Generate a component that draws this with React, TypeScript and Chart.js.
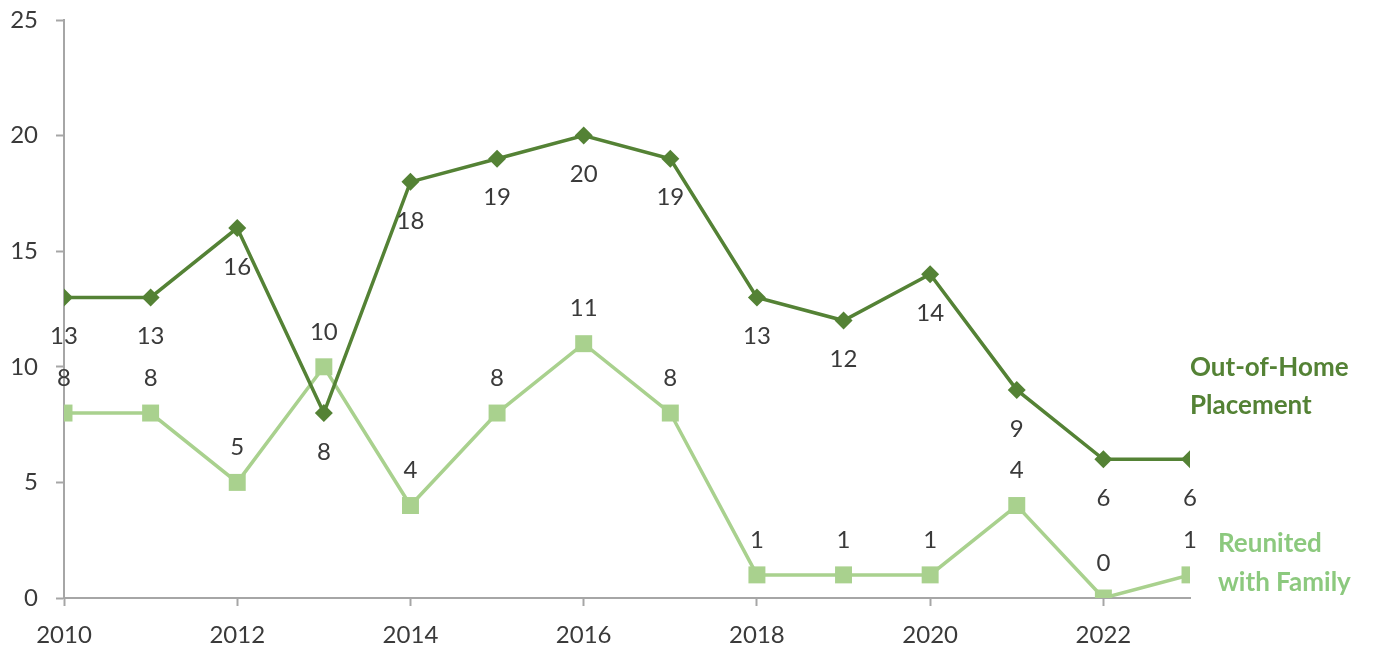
import React, { useEffect, useRef } from "react";
import { Chart, registerables } from "chart.js";

Chart.register(...registerables);

const years = [2010, 2011, 2012, 2013, 2014, 2015, 2016, 2017, 2018, 2019, 2020, 2021, 2022, 2023];
const outOfHome = [13, 13, 16, 8, 18, 19, 20, 19, 13, 12, 14, 9, 6, 6];
const reunited = [8, 8, 5, 10, 4, 8, 11, 8, 1, 1, 1, 4, 0, 1];
const yTicks = [0, 5, 10, 15, 20, 25];
const seriesNames = [["Out-of-Home", "Placement"], ["Reunited", "with Family"]];

const DARK = "#548235";
const LIGHT = "#A9D18E";
const LIGHT_TEXT = "#8CC97E";
const TEXT = "#3A3A3A";
const AXIS = "#A6A6A6";
const FONT = "Lato";

const labelPlugin = {
  id: "labels",
  afterDatasetsDraw(chart: any) {
    const ctx = chart.ctx;
    ctx.save();
    ctx.font = `24px ${FONT}`;
    ctx.fillStyle = TEXT;
    ctx.textAlign = "center";
    ctx.textBaseline = "middle";
    const offsets = [39, -35];
    chart.data.datasets.forEach((ds: any, i: number) => {
      const meta = chart.getDatasetMeta(i);
      meta.data.forEach((pt: any, j: number) => {
        ctx.fillText(String(ds.data[j].y), pt.x, pt.y + offsets[i]);
      });
    });
    // series name labels
    const area = chart.chartArea;
    ctx.font = `bold 26px ${FONT}`;
    ctx.textAlign = "left";
    ctx.fillStyle = DARK;
    ctx.fillText(seriesNames[0][0], area.right, 368);
    ctx.fillText(seriesNames[0][1], area.right, 406);
    ctx.fillStyle = LIGHT_TEXT;
    ctx.fillText(seriesNames[1][0], area.right + 28, 544);
    ctx.fillText(seriesNames[1][1], area.right + 28, 583);
    ctx.restore();
  },
};

export default function App() {
  const ref = useRef<HTMLCanvasElement>(null);
  useEffect(() => {
    const chart = new Chart(ref.current!, {
      type: "line",
      data: {
        datasets: [
          {
            label: "Out-of-Home Placement",
            data: years.map((x, i) => ({ x, y: outOfHome[i] })),
            borderColor: DARK,
            backgroundColor: DARK,
            borderWidth: 3.5,
            pointStyle: "rectRot",
            pointRadius: 9,
            pointBorderWidth: 0,
          },
          {
            label: "Reunited with Family",
            data: years.map((x, i) => ({ x, y: reunited[i] })),
            borderColor: LIGHT,
            backgroundColor: LIGHT,
            borderWidth: 3.5,
            pointStyle: "rect",
            pointRadius: 12,
            pointBorderWidth: 0,
          },
        ],
      },
      options: {
        animation: false,
        responsive: false,
        maintainAspectRatio: false,
        layout: { padding: { top: 20, right: 185, left: 0, bottom: 0 } },
        plugins: { legend: { display: false }, tooltip: { enabled: false } },
        scales: {
          x: {
            type: "linear",
            min: years[0],
            max: years[years.length - 1],
            afterBuildTicks: (s: any) => {
              s.ticks = years.filter((y) => y % 2 === 0).map((v) => ({ value: v }));
            },
            afterFit: (s: any) => {
              s.height = 52;
              s.paddingLeft = 0;
              s.paddingRight = 0;
            },
            ticks: {
              callback: (v: any) => String(v),
              color: TEXT,
              font: { family: FONT, size: 24 },
              padding: 15,
              maxRotation: 0,
            },
            grid: { drawOnChartArea: false, color: AXIS, tickLength: 8, tickWidth: 2 },
            border: { color: AXIS, width: 2 },
          },
          y: {
            min: 0,
            max: 25,
            afterBuildTicks: (s: any) => {
              s.ticks = yTicks.map((v) => ({ value: v }));
            },
            afterFit: (s: any) => {
              s.width = 64;
              s.paddingTop = 0;
              s.paddingBottom = 0;
            },
            ticks: {
              color: TEXT,
              font: { family: FONT, size: 24 },
              padding: 18,
            },
            grid: { drawOnChartArea: false, color: AXIS, tickLength: 8, tickWidth: 2 },
            border: { color: AXIS, width: 2 },
          },
        },
      },
      plugins: [labelPlugin],
    });
    return () => chart.destroy();
  }, []);
  return (
    <div style={{ position: "fixed", left: 0, top: 0, width: 1375, height: 650, background: "#fff" }}>
      <canvas ref={ref} width={1375} height={650} style={{ width: 1375, height: 650 }} />
    </div>
  );
}
